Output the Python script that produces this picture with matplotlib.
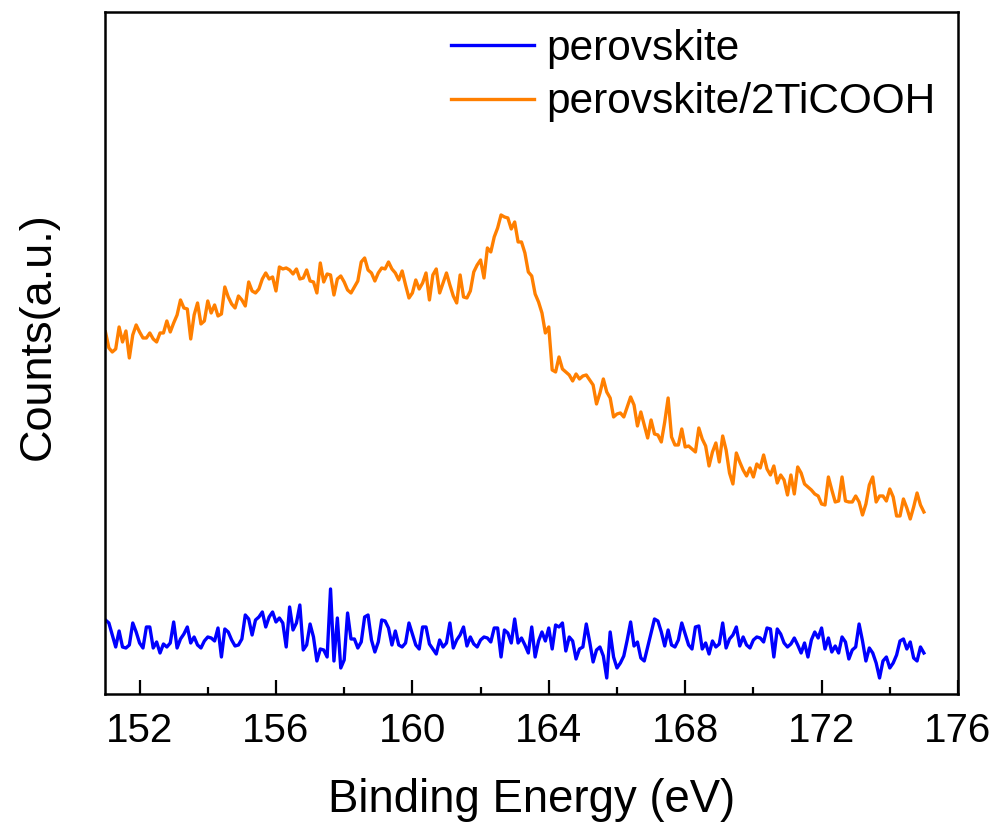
import numpy as np
import matplotlib
matplotlib.use("Agg")
import matplotlib.pyplot as plt
from matplotlib.ticker import MultipleLocator

plt.rcParams["font.family"] = ["Liberation Sans", "DejaVu Sans"]

# XPS scan grid (eV), 0.1 eV step
e_start, e_stop, e_step = 151.0, 175.0, 0.1
energy = np.round(np.arange(e_start, e_stop + e_step / 2, e_step), 1)

# intensities (a.u.)
perovskite = [
    80, 77, 65, 53, 69, 53, 52, 55, 77, 68, 57, 52, 73, 73, 52, 58, 47, 56, 53, 57,
    78, 52, 61, 66, 73, 57, 63, 55, 52, 59, 63, 62, 59, 72, 43, 71, 68, 60, 54, 55,
    61, 85, 81, 65, 80, 83, 88, 73, 83, 88, 78, 82, 77, 53, 93, 70, 77, 95, 50, 55,
    76, 63, 39, 51, 50, 43, 111, 39, 82, 32, 40, 87, 61, 61, 52, 58, 83, 85, 60, 48,
    58, 80, 79, 72, 55, 69, 55, 53, 57, 77, 66, 55, 51, 73, 73, 56, 51, 46, 60, 53,
    57, 77, 52, 60, 65, 73, 54, 63, 56, 53, 60, 63, 62, 58, 72, 72, 43, 70, 67, 57,
    81, 57, 62, 55, 47, 73, 43, 59, 68, 59, 72, 51, 75, 73, 77, 49, 63, 59, 41, 51,
    53, 76, 58, 38, 50, 53, 44, 22, 68, 43, 32, 37, 44, 60, 78, 54, 58, 42, 39, 53,
    67, 81, 79, 68, 54, 70, 55, 53, 60, 77, 66, 55, 51, 73, 74, 51, 57, 46, 59, 53,
    56, 77, 52, 61, 65, 73, 54, 63, 55, 52, 60, 63, 62, 58, 72, 71, 43, 71, 66, 57,
    53, 56, 62, 55, 47, 57, 43, 60, 68, 62, 72, 51, 62, 48, 54, 47, 63, 58, 41, 50,
    53, 76, 59, 39, 52, 47, 37, 22, 39, 43, 32, 37, 45, 59, 61, 51, 58, 42, 39, 53,
    47,
]

perovskite_2ticooh = [
    368, 352, 348, 351, 373, 358, 369, 342, 365, 375, 368, 362, 362, 367, 361, 358, 367, 367, 379, 368,
    377, 385, 400, 392, 391, 361, 385, 397, 376, 379, 399, 387, 395, 384, 386, 413, 403, 396, 392, 404,
    400, 394, 418, 409, 407, 411, 421, 427, 421, 423, 409, 433, 431, 432, 430, 426, 431, 421, 422, 430,
    419, 418, 407, 437, 418, 426, 425, 405, 421, 424, 418, 410, 407, 413, 419, 438, 442, 430, 427, 419,
    427, 432, 431, 438, 431, 427, 420, 429, 415, 402, 407, 420, 411, 417, 427, 400, 425, 431, 407, 417,
    427, 415, 404, 397, 425, 403, 402, 409, 428, 435, 440, 422, 452, 448, 463, 472, 485, 483, 482, 471,
    478, 458, 458, 447, 428, 424, 406, 398, 387, 367, 373, 330, 328, 343, 331, 328, 325, 319, 326, 321,
    324, 325, 320, 315, 296, 307, 321, 308, 302, 283, 286, 287, 283, 293, 303, 295, 274, 288, 275, 262,
    280, 266, 265, 258, 278, 302, 263, 255, 255, 271, 253, 254, 251, 248, 272, 261, 254, 234, 248, 257,
    238, 264, 250, 227, 216, 247, 238, 230, 224, 232, 223, 236, 232, 245, 231, 225, 234, 217, 225, 220,
    205, 225, 206, 233, 227, 216, 213, 210, 206, 204, 196, 195, 223, 210, 198, 199, 223, 199, 198, 198,
    204, 198, 185, 196, 215, 223, 198, 204, 204, 199, 211, 203, 184, 184, 201, 192, 181, 193, 207, 195,
    188,
]

labels = ["perovskite", "perovskite/2TiCOOH"]
colors = ["#0000FF", "#FF7F00"]

fig = plt.figure(figsize=(9.95, 8.25), dpi=100)
ax = fig.add_axes([0.106, 0.1588, 0.8568, 0.8267])

ax.plot(energy, perovskite, color=colors[0], lw=2.4, label=labels[0])
ax.plot(energy, perovskite_2ticooh, color=colors[1], lw=2.4, label=labels[1])

ax.set_xlim(151, 176)
ax.set_ylim(6, 688)
ax.xaxis.set_major_locator(MultipleLocator(4))
ax.xaxis.set_minor_locator(MultipleLocator(2))
ax.set_yticks([])
ax.tick_params(axis="x", which="major", direction="in", length=10, width=1.6,
               labelsize=29, pad=13, top=False)
ax.tick_params(axis="x", which="minor", direction="in", length=5, width=1.6, top=False)
for s in ax.spines.values():
    s.set_linewidth(1.8)

ax.set_xlabel("Binding Energy (eV)", fontsize=32.8, labelpad=20)
ax.set_ylabel("Counts(a.u.)", fontsize=32.5)
ax.yaxis.set_label_coords(-0.055, 0.525)

ax.legend(loc="upper right", frameon=False, fontsize=30.5, handlelength=1.95,
          handletextpad=0.3, labelspacing=0.32, borderaxespad=0.0,
          bbox_to_anchor=(0.994, 1.0))

fig.savefig("out.png", dpi=100)
